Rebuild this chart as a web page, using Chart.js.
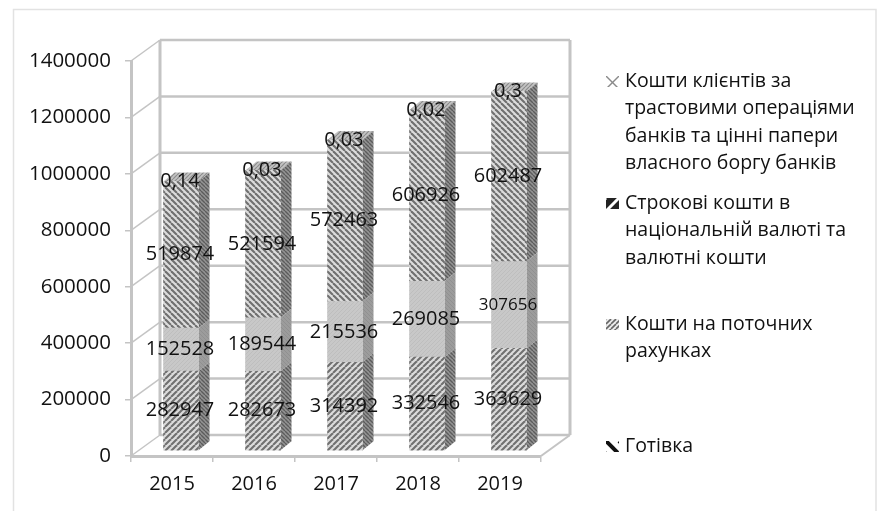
<!DOCTYPE html>
<html lang="uk">
<head>
<meta charset="utf-8">
<title>Кошти клієнтів банків</title>
<script src="https://cdn.jsdelivr.net/npm/chart.js@4"></script>
<style>
  html, body { margin: 0; padding: 0; background: #fff; }
  canvas { display: block; filter: blur(0.4px); }
</style>
</head>
<body>
<canvas id="chart" width="877" height="511"></canvas>
<script>
// ============================================
// DATA
// ============================================
const years = ['2015', '2016', '2017', '2018', '2019'];
const cash = [282947, 282673, 314392, 332546, 363629];
const currentAccounts = [152528, 189544, 215536, 269085, 307656];
const termDeposits = [519874, 521594, 572463, 606926, 602487];
const trustFunds = [0.14, 0.03, 0.03, 0.02, 0.3];
const smallLabelValues = [307656];

const legendLines = [
  ['Кошти клієнтів за', 'трастовими операціями', 'банків та цінні папери', 'власного боргу банків'],
  ['Строкові кошти в', 'національній валюті та', 'валютні кошти'],
  ['Кошти на поточних', 'рахунках'],
  ['Готівка']
];

// ============================================
// 3D LOOK
// ============================================
const FONT = '"Open Sans", sans-serif';
const GRID = '#c4c4c4';
const TEXT = '#111';
const wall = { dx: 29, dy: -21 };
const barShift = { dx: 9, dy: -5 };
const depth = { dx: 11, dy: -9 };

function hatch(size, back, front, lineWidth, rising, both) {
  const c = document.createElement('canvas');
  c.width = size;
  c.height = size;
  const x = c.getContext('2d');
  x.fillStyle = back;
  x.fillRect(0, 0, size, size);
  x.strokeStyle = front;
  x.lineWidth = lineWidth;
  for (let i = -size; i <= size * 2; i += size) {
    if (rising || both) {
      x.beginPath();
      x.moveTo(i, size);
      x.lineTo(i + size, 0);
      x.stroke();
    }
    if (!rising || both) {
      x.beginPath();
      x.moveTo(i, 0);
      x.lineTo(i + size, size);
      x.stroke();
    }
  }
  return x.createPattern(c, 'repeat');
}

const ctxMain = document.getElementById('chart').getContext('2d');
const fillUp = hatch(6, '#dcdcdc', '#707070', 2.1, true);
const fillDown = hatch(6, '#dcdcdc', '#707070', 2.1, false);
const fillFlat = hatch(4, '#c8c8c8', '#bebebe', 1, true);
const sideDark = hatch(4, '#949494', '#5c5c5c', 1.4, false);
const sideFlat = hatch(4, '#9c9c9c', '#909090', 1, false);
const topFill = hatch(4, '#c4c4c4', '#8c8c8c', 1.2, true);

const marks = [
  hatch(13, '#fff', '#8a8a8a', 1.4, true, true),
  hatch(13, '#222', '#fff', 3, true),
  hatch(5, '#ececec', '#666', 1.6, true),
  hatch(13, '#fff', '#111', 4, false)
];

const walls3d = {
  id: 'walls3d',
  beforeDraw(chart) {
    const c = chart.ctx;
    c.save();
    c.strokeStyle = '#e2e2e2';
    c.lineWidth = 1.5;
    c.strokeRect(13.5, 9.5, 862.5, 600);
    c.restore();
  },
  beforeDatasetsDraw(chart) {
    const c = chart.ctx;
    const y = chart.scales.y;
    const x = chart.scales.x;
    const backLeft = x.left + wall.dx;
    const backRight = x.right + wall.dx;
    c.save();
    c.strokeStyle = GRID;
    y.ticks.forEach(function(t) {
      const py = y.getPixelForValue(t.value);
      c.lineWidth = 1.5;
      c.beginPath();
      c.moveTo(x.left, py);
      c.lineTo(backLeft, py + wall.dy);
      c.stroke();
      c.lineWidth = 2.5;
      c.beginPath();
      c.moveTo(backLeft, py + wall.dy);
      c.lineTo(backRight, py + wall.dy);
      c.stroke();
    });
    c.lineWidth = 3;
    c.beginPath();
    c.moveTo(backLeft, y.bottom + wall.dy);
    c.lineTo(backLeft, y.top + wall.dy);
    c.moveTo(backRight, y.top + wall.dy);
    c.lineTo(backRight, y.bottom + wall.dy);
    c.stroke();
    c.lineWidth = 2;
    c.beginPath();
    c.moveTo(x.right, y.bottom);
    c.lineTo(backRight, y.bottom + wall.dy);
    c.stroke();
    c.restore();
  },
  beforeDatasetDraw(chart, args) {
    const c = chart.ctx;
    const last = chart.data.datasets.length - 1;
    c.save();
    c.translate(barShift.dx, barShift.dy);
    args.meta.data.forEach(function(bar) {
      const p = bar.getProps(['x', 'y', 'base', 'width'], true);
      const right = p.x + p.width / 2;
      const left = p.x - p.width / 2;
      // side face
      c.fillStyle = args.index === 1 ? sideFlat : sideDark;
      c.beginPath();
      c.moveTo(right, p.base);
      c.lineTo(right + depth.dx, p.base + depth.dy);
      c.lineTo(right + depth.dx, p.y + depth.dy);
      c.lineTo(right, p.y);
      c.closePath();
      c.fill();
      // top face, only the last series closes the column
      if (args.index === last) {
        c.fillStyle = topFill;
        c.beginPath();
        c.moveTo(left, p.y);
        c.lineTo(left + depth.dx, p.y + depth.dy);
        c.lineTo(right + depth.dx, p.y + depth.dy);
        c.lineTo(right, p.y);
        c.closePath();
        c.fill();
      }
    });
  },
  afterDatasetDraw(chart) {
    chart.ctx.restore();
  },
  afterDatasetsDraw(chart) {
    const c = chart.ctx;
    c.save();
    c.fillStyle = TEXT;
    c.textAlign = 'center';
    c.textBaseline = 'middle';
    chart.data.datasets.forEach(function(ds, i) {
      chart.getDatasetMeta(i).data.forEach(function(bar, j) {
        const p = bar.getProps(['x', 'y', 'base'], true);
        const v = ds.data[j];
        const small = smallLabelValues.indexOf(v) !== -1;
        c.font = (small ? 17 : 20) + 'px ' + FONT;
        c.fillText(String(v).replace('.', ','), p.x + barShift.dx - 1, (p.y + p.base) / 2 + barShift.dy);
      });
    });
    c.restore();
  },
  afterDraw(chart) {
    // legend, spaced by hand like the original
    const c = chart.ctx;
    const rows = [81, 203, 324, 446];
    const step = 27.5;
    c.save();
    c.textBaseline = 'middle';
    c.textAlign = 'left';
    c.font = '19.5px ' + FONT;
    legendLines.forEach(function(lines, i) {
      c.fillStyle = marks[i];
      c.save();
      c.translate(606, rows[i] - 5);
      c.fillRect(0, 0, 13, 11);
      c.restore();
      c.fillStyle = TEXT;
      lines.forEach(function(line, n) {
        c.fillText(line, 625, rows[i] + n * step);
      });
    });
    c.restore();
  }
};

// ============================================
// CHART
// ============================================
new Chart(ctxMain, {
  type: 'bar',
  data: {
    labels: years,
    datasets: [
      { label: 'Готівка', data: cash, backgroundColor: fillUp },
      { label: 'Кошти на поточних рахунках', data: currentAccounts, backgroundColor: fillFlat },
      { label: 'Строкові кошти в національній валюті та валютні кошти', data: termDeposits, backgroundColor: fillDown },
      { label: 'Кошти клієнтів за трастовими операціями банків та цінні папери власного боргу банків', data: trustFunds, backgroundColor: fillDown }
    ]
  },
  options: {
    responsive: false,
    animation: false,
    layout: { padding: { top: 61, right: 336, bottom: 0, left: 0 } },
    datasets: { bar: { barThickness: 35 } },
    plugins: { legend: { display: false }, tooltip: { enabled: false } },
    scales: {
      x: {
        stacked: true,
        afterFit(scale) { scale.height = 55; },
        border: { color: GRID, width: 3 },
        grid: { drawOnChartArea: false, color: GRID, lineWidth: 1.5, tickLength: 6 },
        ticks: { color: TEXT, font: { family: FONT, size: 20 }, padding: 10, maxRotation: 0 }
      },
      y: {
        stacked: true,
        min: 0,
        max: 1400000,
        afterFit(scale) { scale.width = 131; },
        border: { color: GRID, width: 3 },
        grid: { drawOnChartArea: false, color: GRID, lineWidth: 1.5, tickLength: 6 },
        ticks: {
          stepSize: 200000,
          color: TEXT,
          font: { family: FONT, size: 20.5 },
          padding: 14,
          callback: function(v) { return String(v); }
        }
      }
    }
  },
  plugins: [walls3d]
});
</script>
</body>
</html>
